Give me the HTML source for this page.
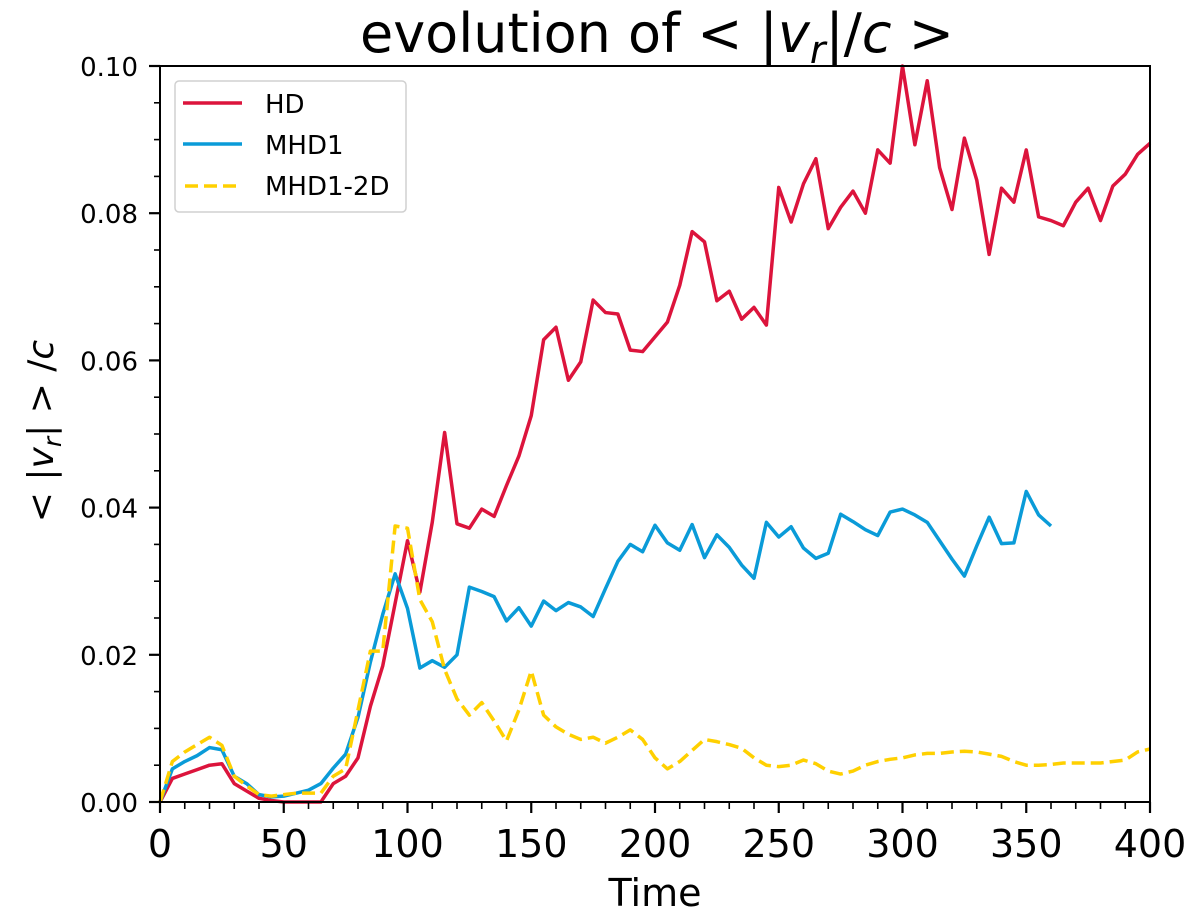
<!DOCTYPE html>
<html><head><meta charset="utf-8"><style>
body{margin:0;background:#fff;}
svg{display:block;font-family:"DejaVu Sans","Liberation Sans",sans-serif;}
</style></head><body>
<svg id="chart" width="1200" height="910" viewBox="0 0 1200 910" xmlns="http://www.w3.org/2000/svg">
<rect width="1200" height="910" fill="#fff"/>
<text x="657" y="52" font-size="54" text-anchor="middle">evolution of  &lt; |<tspan font-style="italic">v</tspan><tspan font-style="italic" font-size="38" dy="11">r</tspan><tspan dy="-11">|/</tspan><tspan font-style="italic">c</tspan> &gt;</text>
<text transform="translate(53,431) rotate(-90)" font-size="36" text-anchor="middle">&lt; |<tspan font-style="italic">v</tspan><tspan font-style="italic" font-size="25" dy="8">r</tspan><tspan dy="-8">| &gt; /</tspan><tspan font-style="italic">c</tspan></text>
<text x="655" y="906" font-size="38" text-anchor="middle">Time</text>
<g id="marks"></g>
<g id="axes"></g>
<g>
<rect x="175" y="81" width="231" height="131" rx="4" fill="#fff" fill-opacity="0.85" stroke="#d0d0d0" stroke-width="1.5"/>
<line x1="183" y1="103" x2="242" y2="103" stroke="#dc143c" stroke-width="3.5"/>
<text x="265" y="113" font-size="26">HD</text>
<line x1="183" y1="144" x2="242" y2="144" stroke="#0a9bd8" stroke-width="3.5"/>
<text x="265" y="154" font-size="26">MHD1</text>
<line x1="185" y1="186" x2="242" y2="186" stroke="#ffd000" stroke-width="3.5" stroke-dasharray="13,6"/>
<text x="265" y="195" font-size="26">MHD1-2D</text>
</g>
</svg>
<script>
const hdValues=[0,0.0032,0.0038,0.0044,0.005,0.0052,0.0025,0.0015,0.0005,0.0002,0,0,0,0,0.0025,0.0035,0.006,0.013,0.0185,0.027,0.0355,0.0285,0.038,0.0502,0.0378,0.0372,0.0398,0.0388,0.043,0.047,0.0525,0.0628,0.0645,0.0573,0.0598,0.0682,0.0665,0.0663,0.0614,0.0612,0.0632,0.0652,0.0702,0.0775,0.0761,0.0681,0.0694,0.0656,0.0672,0.0648,0.0835,0.0788,0.084,0.0874,0.0779,0.0808,0.083,0.08,0.0886,0.0868,0.1,0.0893,0.098,0.0862,0.0805,0.0902,0.0845,0.0744,0.0834,0.0815,0.0886,0.0795,0.079,0.0783,0.0815,0.0834,0.079,0.0837,0.0853,0.088,0.0895];
const mhd1Values=[0,0.0045,0.0055,0.0063,0.0074,0.0071,0.0035,0.0025,0.001,0.0007,0.0008,0.0012,0.0016,0.0025,0.0046,0.0065,0.0115,0.019,0.0255,0.031,0.0263,0.0182,0.0192,0.0183,0.02,0.0292,0.0286,0.0279,0.0246,0.0264,0.0239,0.0273,0.026,0.0271,0.0265,0.0252,0.029,0.0327,0.035,0.034,0.0376,0.0352,0.0342,0.0377,0.0332,0.0363,0.0346,0.0322,0.0304,0.038,0.036,0.0374,0.0345,0.0331,0.0338,0.0391,0.0381,0.037,0.0362,0.0394,0.0398,0.039,0.038,0.0355,0.033,0.0307,0.0348,0.0387,0.0351,0.0352,0.0422,0.039,0.0375];
const mhd12dValues=[0,0.0055,0.0068,0.0078,0.0088,0.0077,0.0035,0.0022,0.001,0.0008,0.001,0.0012,0.0012,0.0012,0.0035,0.0045,0.0125,0.0205,0.0205,0.0375,0.0372,0.0275,0.0245,0.018,0.014,0.0118,0.0135,0.011,0.0083,0.0125,0.0178,0.0118,0.0102,0.0092,0.0085,0.0088,0.008,0.0088,0.0098,0.0085,0.006,0.0045,0.0055,0.007,0.0085,0.0082,0.0078,0.0073,0.006,0.005,0.0048,0.005,0.0057,0.0052,0.0042,0.0038,0.0042,0.005,0.0055,0.0058,0.006,0.0064,0.0066,0.0066,0.0068,0.0069,0.0068,0.0065,0.0062,0.0055,0.005,0.005,0.0051,0.0053,0.0053,0.0053,0.0053,0.0055,0.0057,0.0068,0.0072];
const timeStep=5;
const xTicks=[0,50,100,150,200,250,300,350,400];
const yTicks=[0,0.02,0.04,0.06,0.08,0.10];
const yTickLabels=["0.00","0.02","0.04","0.06","0.08","0.10"];

const L=160,R=1150,T=66,B=802;
const xs=v=>L+(v/400)*(R-L);
const ys=v=>B-(v/0.1)*(B-T);
const NS="http://www.w3.org/2000/svg";
function mk(tag,attrs,parent){const e=document.createElementNS(NS,tag);for(const k in attrs)e.setAttribute(k,attrs[k]);parent.appendChild(e);return e;}
const marks=document.getElementById('marks');
const axes=document.getElementById('axes');
function series(vals,color,name,dash){
  const d=vals.map((v,i)=>(i?'L':'M')+xs(i*timeStep).toFixed(2)+','+ys(v).toFixed(2)).join(' ');
  const p=mk('path',{d:d,fill:'none',stroke:color,'stroke-width':3.5,'stroke-linejoin':'round'},marks);
  if(dash)p.setAttribute('stroke-dasharray',dash);
  
  
}
series(hdValues,'#dc143c','hd-line');
series(mhd1Values,'#0a9bd8','mhd1-line');
series(mhd12dValues,'#ffd000','mhd1-2d-line','13,6');
const frame=mk('rect',{x:L,y:T,width:R-L,height:B-T,fill:'none',stroke:'#000','stroke-width':2},axes);


for(let v=0;v<=400;v+=10){
  const major=v%50===0;
  mk('line',{x1:xs(v),x2:xs(v),y1:B,y2:B+(major?11:7),stroke:'#000','stroke-width':major?2.2:1.6},axes);
}
for(let k=0;k<=20;k++){
  const v=k*0.005,major=k%4===0;
  mk('line',{x1:L,x2:L-(major?11:6),y1:ys(v),y2:ys(v),stroke:'#000','stroke-width':major?2.2:1.6},axes);
}
xTicks.forEach(v=>{
  const t=mk('text',{x:xs(v),y:B+55,'font-size':38,'text-anchor':'middle'},axes);
  t.textContent=v;
  
  
});
yTicks.forEach((v,i)=>{
  const t=mk('text',{x:L-22,y:ys(v)+10,'font-size':26,'text-anchor':'end'},axes);
  t.textContent=yTickLabels[i];
  
  
});
</script>
</body></html>
